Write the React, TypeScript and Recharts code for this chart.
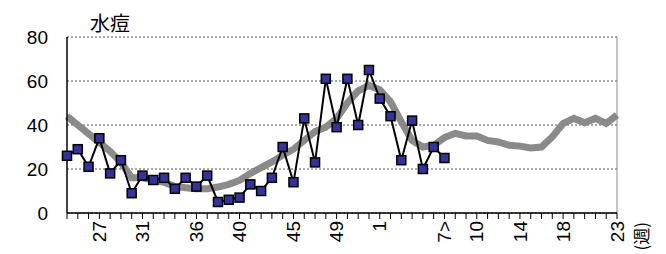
import { LineChart, Line, XAxis, YAxis, CartesianGrid, ReferenceLine } from "recharts";

const weeks = [
  24, 25, 26, 27, 28, 29, 30, 31, 32, 33, 34, 35, 36, 37, 38, 39, 40, 41, 42, 43,
  44, 45, 46, 47, 48, 49, 50, 51, 52, 1, 2, 3, 4, 5, 6, 7, 8, 9, 10, 11, 12, 13,
  14, 15, 16, 17, 18, 19, 20, 21, 22, 23,
];

// this season (blue squares)
const current = [
  26, 29, 21, 34, 18, 24, 9, 17, 15, 16, 11, 16, 12, 17, 5, 6, 7, 13, 10, 16,
  30, 14, 43, 23, 61, 39, 61, 40, 65, 52, 44, 24, 42, 20, 30, 25,
];

// average of past seasons (thick gray line)
const average = [
  44, 40, 36, 32, 28, 23, 16, 16, 15, 14, 12, 11.5, 11, 11, 11.8, 13, 14.8, 18, 20.6, 23.2,
  26.3, 29, 33, 37, 39, 43, 50, 55.5, 58, 56, 50.5, 41.5, 33, 30, 30.8, 34.3, 36.2, 35,
  35, 33, 32.3, 30.8, 30.4, 29.6, 30, 34.6, 40.7, 43, 41, 43, 40.7, 44.5,
];

const shownLabels: Record<number, string> = {
  27: "27", 31: "31", 36: "36", 40: "40", 45: "45", 49: "49",
  1: "1", 7: "7>", 10: "10", 14: "14", 18: "18", 23: "23",
};

const yTicks = [0, 20, 40, 60, 80];

const data = weeks.map((w, i) => ({
  week: w,
  current: i < current.length ? current[i] : null,
  average: average[i],
}));

const font = '"Liberation Sans", Arial, sans-serif';

function WeekTick(props: any) {
  const { x, payload } = props;
  const label = shownLabels[payload.value];
  if (!label) return null;
  const top = 221;
  return (
    <text
      x={x}
      y={top}
      dy="0.35em"
      transform={`rotate(-90 ${x} ${top})`}
      textAnchor="end"
      fontSize={19}
      fontFamily={font}
      fill="#000"
    >
      {label}
    </text>
  );
}

function SquareDot(props: any) {
  const { cx, cy, value } = props;
  if (value == null || cx == null || cy == null) return null;
  return (
    <rect
      key={`d-${cx}`}
      x={cx - 4.5}
      y={cy - 4.5}
      width={9}
      height={9}
      fill="#333399"
      stroke="#000"
      strokeWidth={1.5}
    />
  );
}

export default function App() {
  return (
    <div style={{ position: "absolute", left: 0, top: 0, width: 666, height: 254, background: "#fff" }}>
      <LineChart
        width={666}
        height={254}
        data={data}
        margin={{ top: 37, right: 49, bottom: 0, left: 27 }}
      >
        <CartesianGrid vertical={false} stroke="#555" strokeDasharray="2 2" />
        <XAxis
          dataKey="week"
          interval={0}
          height={41}
          tickSize={6}
          tick={<WeekTick />}
          axisLine={{ stroke: "#000", strokeWidth: 1.5 }}
          tickLine={{ stroke: "#000" }}
        />
        <YAxis
          domain={[0, 80]}
          ticks={yTicks}
          width={40}
          tickLine={false}
          tickSize={6}
          tickMargin={13}
          axisLine={{ stroke: "#000", strokeWidth: 1.5 }}
          tick={{ fontSize: 19, fontFamily: font, fill: "#000" }}
        />
        <ReferenceLine x={23} stroke="#888" strokeWidth={1} />
        <Line
          dataKey="average"
          stroke="#8a8a8a"
          strokeWidth={7}
          dot={false}
          isAnimationActive={false}
        />
        <Line
          dataKey="current"
          stroke="#000"
          strokeWidth={2}
          dot={<SquareDot />}
          isAnimationActive={false}
        />
      </LineChart>
      <svg
        width={666}
        height={254}
        style={{ position: "absolute", left: 0, top: 0, pointerEvents: "none" }}
      >
        <text x={90} y={30.5} fontSize={20} fontFamily='"Noto Sans CJK JP", sans-serif' fill="#000">
          水痘
        </text>
        <text
          x={642}
          y={222}
          dy="0.35em"
          transform="rotate(-90 642 222)"
          textAnchor="end"
          fontSize={17}
          fontFamily='"Noto Sans CJK JP", sans-serif'
          fill="#000"
        >
          (週)
        </text>
      </svg>
    </div>
  );
}
